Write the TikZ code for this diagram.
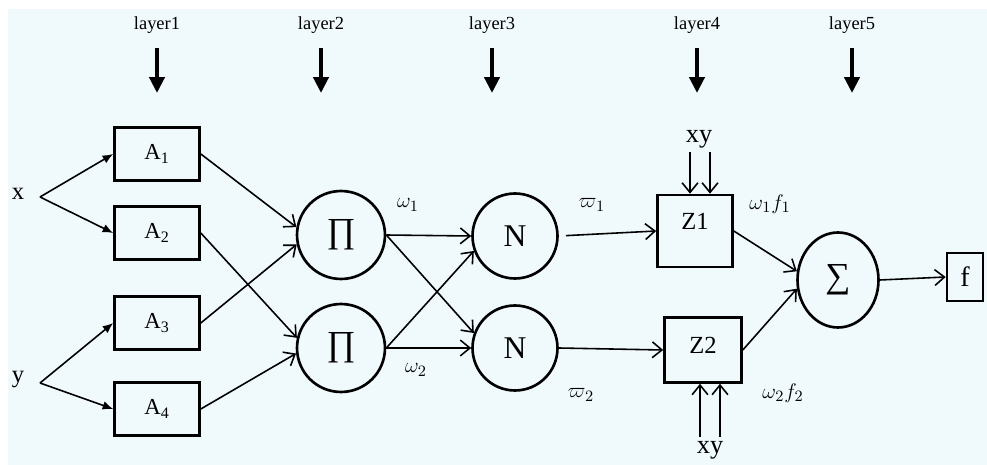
\documentclass[tikz,border=0pt]{standalone}
\usepackage{fontspec}
\setmainfont{Liberation Serif}
\usetikzlibrary{arrows.meta, shapes.geometric}
\definecolor{paper}{RGB}{240, 249, 252}

\tikzset{
  box/.style={draw, line width=1.5pt, inner sep=0pt},
  rnd/.style={circle, draw, line width=1.5pt, inner sep=0pt,
    minimum size=1.76cm, font=\fontsize{18}{18}\selectfont},
  wire/.style={line width=0.9pt, -{Straight Barb[length=5.5pt, width=9pt]}},
  feed/.style={line width=0.9pt, -{Latex[length=6pt, width=5pt]}},
  layarrow/.style={line width=2.2pt, -{Triangle[length=9pt, width=8.5pt]}},
  lbl/.style={font=\fontsize{12.5}{13}\selectfont}
}

\begin{document}
\begin{tikzpicture}[x=0.02cm, y=-0.02cm]
  \fill[white] (0, 0) rectangle (987, 465);
  \fill[paper] (8, 9) rectangle (987, 465);

  % layers
  \foreach \i/\x in {1/157, 2/321, 3/492, 4/697, 5/852} {
    \node[font=\fontsize{10.5}{11}\selectfont] (lay\i) at (\x, 25) {layer\i};
    \coordinate (top\i) at (\x, 48);
    \draw[layarrow] (top\i) -- ++(0, 45);
  }

  % inputs
  \node[font=\fontsize{14}{14}\selectfont] (xin) at (18, 194) {x};
  \node[font=\fontsize{14}{14}\selectfont] (yin) at (18, 380) {y};
  \coordinate (xf) at (40, 197);
  \coordinate (yf) at (40, 383);

  % layer 1
  \foreach \i/\y in {1/154, 2/233, 3/323, 4/409} {
    \node[box, minimum width=1.7cm, minimum height=1.06cm,
      font=\fontsize{13}{13}\selectfont] (a\i) at (157, \y) {A\textsubscript{\i}};
  }

  % layer 2 and 3
  \node[rnd, font=\fontsize{20}{20}\selectfont] (p1) at (341, 235) {∏};
  \node[rnd, font=\fontsize{20}{20}\selectfont] (p2) at (341, 348) {∏};
  \node[rnd, minimum size=1.7cm] (n1) at (515, 236) {N};
  \node[rnd, minimum size=1.7cm] (n2) at (515, 348) {N};

  % layer 4
  \node[box, minimum width=1.5cm, minimum height=1.44cm, text depth=0.4cm,
    font=\fontsize{14}{14}\selectfont] (z1) at (695, 231) {Z1};
  \node[box, minimum width=1.54cm, minimum height=1.3cm, text depth=0.2cm,
    font=\fontsize{14}{14}\selectfont] (z2) at (703, 350) {Z2};
  \node[font=\fontsize{15}{15}\selectfont] (xyt) at (699, 139) {xy};
  \node[font=\fontsize{15}{15}\selectfont] (xyb) at (710, 450) {xy};
  \coordinate (u1) at (690, 152);
  \coordinate (u2) at (710, 152);
  \coordinate (d1) at (700, 437);
  \coordinate (d2) at (720, 437);

  % layer 5
  \node[ellipse, draw, line width=1.5pt, inner sep=0pt, minimum width=1.62cm,
    minimum height=1.9cm, font=\fontsize{20}{20}\selectfont] (sig) at (838, 280) {∑};
  \node[box, minimum width=0.72cm, minimum height=0.96cm,
    font=\fontsize{16}{16}\selectfont] (f) at (965, 277) {f};

  % labels
  \node[lbl] (w1) at (408, 205) {$\omega_1$};
  \node[lbl] (w2) at (416, 370) {$\omega_2$};
  \node[lbl] (v1) at (592, 205) {$\varpi_1$};
  \node[lbl] (v2) at (581, 395) {$\varpi_2$};
  \node[lbl] (wf1) at (770, 204) {$\omega_1 f_1$};
  \node[lbl] (wf2) at (783, 393) {$\omega_2 f_2$};

  % connections
  \draw[feed] (xf) -- (a1.west);
  \draw[feed] (xf) -- (a2.west);
  \draw[feed] (yf) -- (a3.west);
  \draw[feed] (yf) -- (a4.west);

  \draw[wire] (a1.east) -- (p1.170);
  \draw[wire] (a3.east) -- (p1.192);
  \draw[wire] (a2.east) -- (p2.167);
  \draw[wire] (a4.east) -- (p2.187);

  \draw[wire] (p1.east) -- (n1.west);
  \draw[wire] (p1.east) -- (n2.160);
  \draw[wire] (p2.east) -- (n1.200);
  \draw[wire] (p2.east) -- (n2.west);

  \draw[wire, shorten <=4pt] (n1.east) -- (z1.west);
  \draw[wire] (n2.east) -- (z2.west);

  \draw[wire] (u1) -- (u1 |- z1.north);
  \draw[wire] (u2) -- (u2 |- z1.north);
  \draw[wire] (d1) -- (d1 |- z2.south);
  \draw[wire] (d2) -- (d2 |- z2.south);

  \draw[wire] (z1.east) -- (sig.168);
  \draw[wire] (z2.east) -- (sig.192);
  \draw[wire] (sig.east) -- (f.west);

\end{tikzpicture}
\end{document}
